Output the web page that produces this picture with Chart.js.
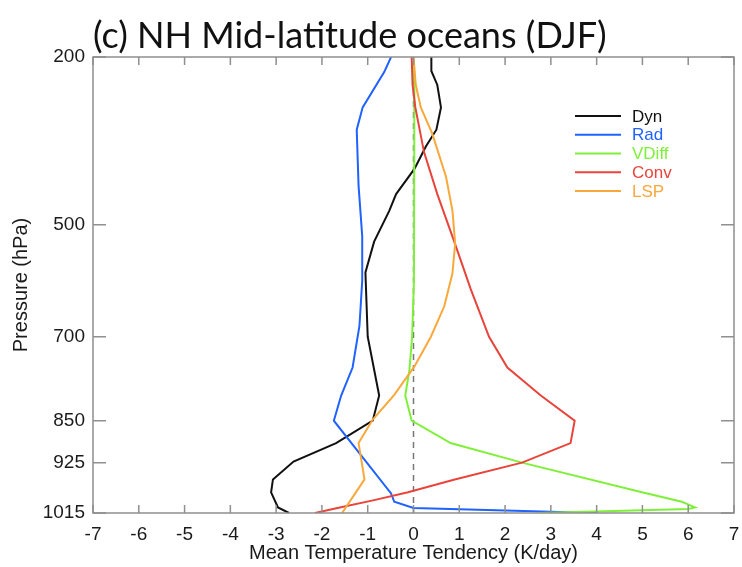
<!DOCTYPE html>
<html><head><meta charset="utf-8">
<script src="https://cdn.jsdelivr.net/npm/chart.js@4.4.1/dist/chart.umd.min.js"></script>
<style>html,body{margin:0;padding:0;background:#fff}#wrap{width:742px;height:567px;position:relative}</style>
</head><body><div id="wrap"><canvas id="c" width="742" height="567"></canvas></div>
<script>
const titleText = '(c) NH Mid-latitude oceans (DJF)';
const xLabel = 'Mean Temperature Tendency (K/day)';
const yLabel = 'Pressure (hPa)';
const xTicks = [-7,-6,-5,-4,-3,-2,-1,0,1,2,3,4,5,6,7];
const yTicks = [200,500,700,850,925,1015];
const seriesNames = ['Dyn','Rad','VDiff','Conv','LSP'];

const dynP = [200,225,250,290,330,360,400,445,475,530,585,700,805,850,890,923,955,978,1005,1015];
const dynV = [0.39,0.39,0.52,0.60,0.50,0.27,0.02,-0.38,-0.53,-0.86,-1.05,-1.0,-0.75,-0.89,-1.69,-2.62,-3.07,-3.11,-2.96,-2.72];

const radP = [200,227,290,330,430,520,600,680,755,805,850,980,995,1006,1015];
const radV = [-0.49,-0.64,-1.11,-1.24,-1.20,-1.12,-1.12,-1.18,-1.33,-1.58,-1.74,-0.49,-0.42,0.0,4.0];

const vdiffP = [200,250,600,700,760,805,850,890,925,978,995,1005,1008,1015];
const vdiffV = [-0.02,0.02,0.01,-0.03,-0.09,-0.18,-0.04,0.81,2.37,4.99,5.86,6.15,6.0,2.75];

const convP = [200,250,290,370,445,530,615,700,755,805,850,890,925,955,978,992,1005,1015];
const convV = [-0.04,-0.02,0.04,0.23,0.52,0.89,1.25,1.65,2.05,2.78,3.52,3.43,2.37,0.9,-0.12,-0.86,-1.61,-2.15];

const lspP = [200,250,290,337,414,474,533,587,646,700,753,804,848,890,955,1015];
const lspV = [0.0,0.05,0.16,0.41,0.71,0.85,0.91,0.85,0.67,0.38,0.02,-0.42,-0.89,-1.20,-1.07,-1.56];

const zeroLineP = [200,1015];
const zeroLineV = [0,0];

const colors = ['#111111','#1f62ff','#7ff03a','#e8443a','#f9a83c'];

function pts(vals, ps){ return vals.map((v,i)=>({x:v, y:ps[i]})); }

const seriesData = [pts(dynV,dynP), pts(radV,radP), pts(vdiffV,vdiffP), pts(convV,convP), pts(lspV,lspP)];

const datasets = seriesData.map((d,i)=>({
  label: seriesNames[i], data: d, borderColor: colors[i], backgroundColor: colors[i],
  borderWidth: 2, pointRadius: 0, showLine: true, fill: false, tension: 0, order: 5 - i
}));
datasets.push({label:'zero', data: pts(zeroLineV, zeroLineP), borderColor:'#777', borderWidth:1.5,
  borderDash:[6,5], pointRadius:0, showLine:true, fill:false, order: 10});

const decor = {
  id:'decor',
  afterDatasetsDraw(chart){
    const {ctx, chartArea:a, scales:{x,y}} = chart;
    ctx.save();
    ctx.strokeStyle = '#8f8f8f'; ctx.lineWidth = 1.5;
    ctx.strokeRect(a.left, a.top, a.right-a.left, a.bottom-a.top);
    ctx.beginPath();
    xTicks.forEach(v=>{ const px = x.getPixelForValue(v);
      ctx.moveTo(px,a.bottom); ctx.lineTo(px,a.bottom-8);
      ctx.moveTo(px,a.top); ctx.lineTo(px,a.top+8); });
    yTicks.forEach(v=>{ const py = y.getPixelForValue(v);
      ctx.moveTo(a.left,py); ctx.lineTo(a.left+13,py);
      ctx.moveTo(a.right,py); ctx.lineTo(a.right-13,py); });
    ctx.stroke();
    // legend
    const lx0 = a.right - 159, lx1 = a.right - 113, tx = a.right - 102;
    ctx.font = '17px "Liberation Sans", Arial, sans-serif';
    ctx.textBaseline = 'middle'; ctx.textAlign = 'left';
    seriesNames.forEach((n,i)=>{
      const ly = a.top + 59 + 18.75*i;
      ctx.strokeStyle = colors[i]; ctx.lineWidth = 2; ctx.setLineDash([]);
      ctx.beginPath(); ctx.moveTo(lx0,ly); ctx.lineTo(lx1,ly); ctx.stroke();
      ctx.fillStyle = colors[i]; ctx.fillText(n, tx, ly+1);
    });
    // title
    ctx.fillStyle = '#111';
    let fs = 31;
    ctx.font = fs + 'px Lato, "Open Sans", sans-serif';
    const w = ctx.measureText(titleText).width;
    fs = fs * 514 / w;
    ctx.font = fs.toFixed(2) + 'px Lato, "Open Sans", sans-serif';
    ctx.textBaseline = 'alphabetic';
    ctx.fillText(titleText, a.left, 47.5);
    ctx.restore();
  }
};

Chart.defaults.font.family = '"Liberation Sans", Arial, sans-serif';
Chart.defaults.color = '#1a1a1a';

new Chart(document.getElementById('c'), {
  type: 'scatter',
  data: { datasets },
  options: {
    responsive: false, animation: false, devicePixelRatio: 1,
    layout: { padding: { top: 57, right: 8, left: 0, bottom: 0 } },
    plugins: { legend: {display:false}, tooltip: {enabled:false}, title:{display:false} },
    scales: {
      x: { type:'linear', position:'bottom', min:-7, max:7,
        grid:{display:false, drawTicks:false}, border:{display:false},
        afterBuildTicks(s){ s.ticks = xTicks.map(v=>({value:v})); },
        ticks:{ font:{size:19}, padding:10, color:'#1a1a1a', maxRotation:0, autoSkip:false,
          callback:(v)=>String(v) },
        title:{ display:true, text:xLabel, font:{size:20}, color:'#1a1a1a', padding:{top:0,bottom:2} },
        afterFit(s){ s.height = 54; s.paddingLeft = 0; s.paddingRight = 0; } },
      y: { type:'linear', position:'left', min:200, max:1015, reverse:true,
        grid:{display:false, drawTicks:false}, border:{display:false},
        afterBuildTicks(s){ s.ticks = yTicks.map(v=>({value:v})); },
        ticks:{ font:{size:19}, padding:8, color:'#1a1a1a', autoSkip:false,
          callback:(v)=>String(v) },
        title:{ display:true, text:yLabel, font:{size:20}, color:'#1a1a1a', padding:{top:9,bottom:0} },
        afterFit(s){ s.width = 93; s.paddingTop = 0; s.paddingBottom = 0; } }
    }
  },
  plugins:[decor]
});
</script></body></html>
